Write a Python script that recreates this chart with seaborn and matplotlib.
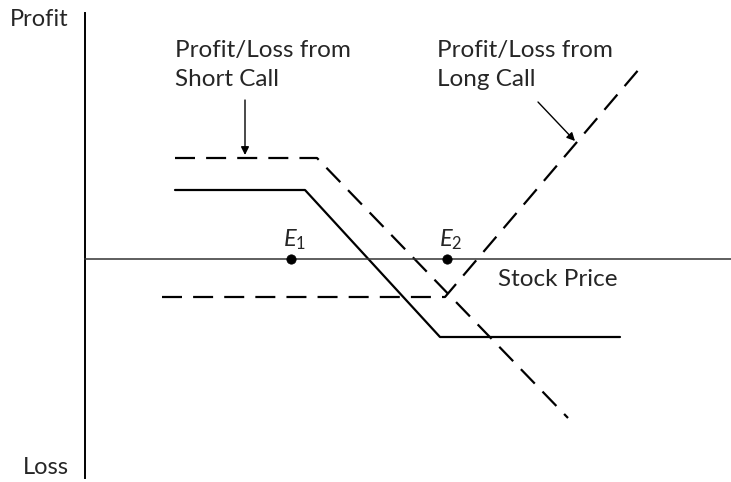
import matplotlib
matplotlib.use("Agg")
import matplotlib.pyplot as plt
import seaborn as sns
import pandas as pd

# Stock price (x) vs profit/loss (y), arbitrary diagram units
short_call_x = [90, 232, 483]
short_call_y = [101, 101, -159]
long_call_x = [77, 360, 555]
long_call_y = [-38, -38, 191]
net_x = [90, 220, 355, 535]
net_y = [69, 69, -78, -78]
breakeven_x = [206, 362]
breakeven_y = [0, 0]
breakeven_labels = ["1", "2"]

sns.set_theme(style="white")
plt.rcParams["font.family"] = ["Lato", "DejaVu Sans"]
plt.rcParams["mathtext.fontset"] = "custom"
plt.rcParams["mathtext.it"] = "Lato:italic"
plt.rcParams["mathtext.rm"] = "Lato"

fig = plt.figure(figsize=(7.31, 4.82), dpi=100)
ax = fig.add_axes([0, 0, 1, 1])
ax.set_xlim(-85, 646)
ax.set_ylim(-223, 259)

df_short = pd.DataFrame({"x": short_call_x, "y": short_call_y})
df_long = pd.DataFrame({"x": long_call_x, "y": long_call_y})
df_net = pd.DataFrame({"x": net_x, "y": net_y})

sns.lineplot(data=df_short, x="x", y="y", ax=ax, color="black", lw=1.6,
             estimator=None, sort=False)
ax.lines[-1].set_dashes((9, 5))
sns.lineplot(data=df_long, x="x", y="y", ax=ax, color="black", lw=1.6,
             estimator=None, sort=False)
ax.lines[-1].set_dashes((9, 5))
sns.lineplot(data=df_net, x="x", y="y", ax=ax, color="black", lw=1.6,
             estimator=None, sort=False)
sns.scatterplot(x=breakeven_x, y=breakeven_y, ax=ax, color="black", s=45,
                edgecolor="black", zorder=5)

for bx, lab in zip(breakeven_x, breakeven_labels):
    ax.text(bx + 4, 19, r"$E_{" + lab + "}$", ha="center", va="center",
            fontsize=17)

# axes as spines
for s in ["top", "right"]:
    ax.spines[s].set_visible(False)
ax.spines["left"].set_position(("data", 0))
ax.spines["left"].set_bounds(-219, 246)
ax.spines["bottom"].set_position(("data", 0))
ax.spines["bottom"].set_bounds(0, 646)
ax.spines["left"].set_color("black")
ax.spines["bottom"].set_color("#333333")
ax.spines["left"].set_linewidth(1.4)
ax.spines["bottom"].set_linewidth(1.1)
ax.set_xticks([])
ax.set_yticks([])
ax.set_xlabel("")
ax.set_ylabel("")

ax.text(-16, 239, "Profit", ha="right", va="center", fontsize=17)
ax.text(-16, -209, "Loss", ha="right", va="center", fontsize=17)
ax.text(413, -20, "Stock Price", ha="left", va="center", fontsize=17.5)

ax.text(90, 219, "Profit/Loss from\nShort Call", ha="left", va="top",
        fontsize=17.5, linespacing=1.5)
ax.text(352, 219, "Profit/Loss from\nLong Call", ha="left", va="top",
        fontsize=17.5, linespacing=1.5)

ax.annotate("", xy=(160, 104), xytext=(160, 159),
            arrowprops=dict(arrowstyle="-|>", color="black", lw=1.0,
                            mutation_scale=12, shrinkA=0, shrinkB=0))
ax.annotate("", xy=(490, 118), xytext=(453, 157),
            arrowprops=dict(arrowstyle="-|>", color="black", lw=1.0,
                            mutation_scale=12, shrinkA=0, shrinkB=0))

fig.savefig("out.png", dpi=100, facecolor="white")
